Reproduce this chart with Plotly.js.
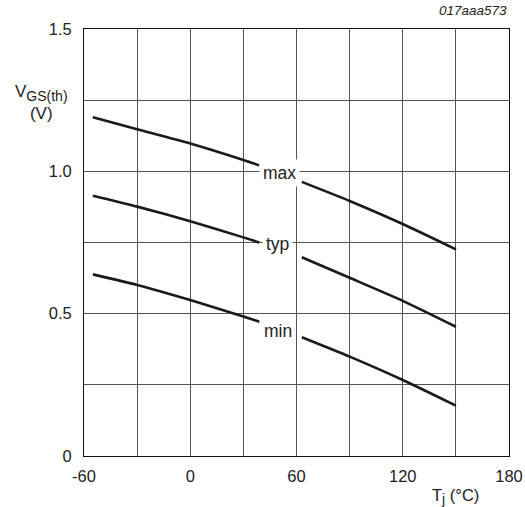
<!DOCTYPE html>
<html>
<head>
<meta charset="utf-8">
<script src="https://cdn.plot.ly/plotly-3.0.1.min.js"></script>
<style>html,body{margin:0;padding:0;background:#fff;}#chart{width:525px;height:507px;}</style>
</head>
<body>
<div id="chart"></div>
<script>
// Temperature (°C) for each curve: left part, gap (label), right part
const tempLeft = [-55, -30, 0, 30, 39];
const tempRight = [63, 90, 120, 150];
const vMaxLeft = [1.19, 1.148, 1.098, 1.040, 1.021];
const vMaxRight = [0.963, 0.896, 0.815, 0.726];
const vTypLeft = [0.914, 0.876, 0.825, 0.768, 0.750];
const vTypRight = [0.698, 0.626, 0.545, 0.454];
const vMinLeft = [0.638, 0.601, 0.548, 0.490, 0.472];
const vMinRight = [0.417, 0.349, 0.267, 0.177];
const curveLabels = ['max', 'typ', 'min'];
const labelTemp = [50.5, 49, 49.5];
const labelValue = [0.993, 0.745, 0.440];
const xTickVals = [-60, -30, 0, 30, 60, 90, 120, 150, 180];
const xTickText = ['-60', '', '0', '', '60', '', '120', '', '180'];
const yTickVals = [0, 0.25, 0.5, 0.75, 1.0, 1.25, 1.5];
const yTickText = ['0', '', '0.5', '', '1.0', '', '1.5'];

const FONT = 'Liberation Sans, Arial, sans-serif';
const lineStyle = {color: '#1a1a1a', width: 2.6, shape: 'spline', smoothing: 0.6};

function seg(left, right) {
  return {
    x: tempLeft.concat([null], tempRight),
    y: left.concat([null], right),
    mode: 'lines', type: 'scatter', line: lineStyle,
    connectgaps: false, hoverinfo: 'skip', showlegend: false
  };
}
const data = [seg(vMaxLeft, vMaxRight), seg(vTypLeft, vTypRight), seg(vMinLeft, vMinRight)];

const annotations = curveLabels.map((t, i) => ({
  x: labelTemp[i], y: labelValue[i], xref: 'x', yref: 'y', text: t,
  showarrow: false, font: {family: FONT, size: 17.5, color: '#222'},
  bgcolor: '#fff', borderpad: 3
}));
annotations.push({
  xref: 'paper', yref: 'paper', x: 1, y: 1, yshift: 9, xanchor: 'right', yanchor: 'bottom',
  text: '<i>017aaa573</i>', showarrow: false, font: {family: FONT, size: 13.5, color: '#222'}
});
annotations.push({
  xref: 'paper', yref: 'paper', x: -0.099, y: 0.829, xanchor: 'center', yanchor: 'middle',
  text: 'V<sub><span style="font-size:14px">GS(th)</span></sub><br>(V)', showarrow: false, align: 'center',
  font: {family: FONT, size: 17, color: '#222'}
});
annotations.push({
  xref: 'paper', yref: 'paper', x: 0.875, y: 0, yshift: -40, xanchor: 'center', yanchor: 'middle',
  text: 'T<sub><span style="font-size:14px">j</span></sub> (°C)', showarrow: false,
  font: {family: FONT, size: 16.5, color: '#222'}
});

const layout = {
  width: 525, height: 507,
  margin: {l: 84, r: 16, t: 29, b: 51},
  paper_bgcolor: '#fff', plot_bgcolor: '#fff',
  font: {family: FONT, size: 16.5, color: '#222'},
  xaxis: {
    range: [-60, 180], tickmode: 'array', tickvals: xTickVals, ticktext: xTickText,
    showgrid: true, gridcolor: '#555', gridwidth: 1, zeroline: false,
    showline: true, linecolor: '#111', linewidth: 1, mirror: true,
    ticks: '', ticklabelstandoff: 5
  },
  yaxis: {
    range: [0, 1.5], tickmode: 'array', tickvals: yTickVals, ticktext: yTickText,
    showgrid: true, gridcolor: '#555', gridwidth: 1, zeroline: false,
    showline: true, linecolor: '#111', linewidth: 1, mirror: true,
    ticks: '', ticklabelstandoff: 8
  },
  annotations: annotations
};

Plotly.newPlot('chart', data, layout, {staticPlot: true, displayModeBar: false});
</script>
</body>
</html>
